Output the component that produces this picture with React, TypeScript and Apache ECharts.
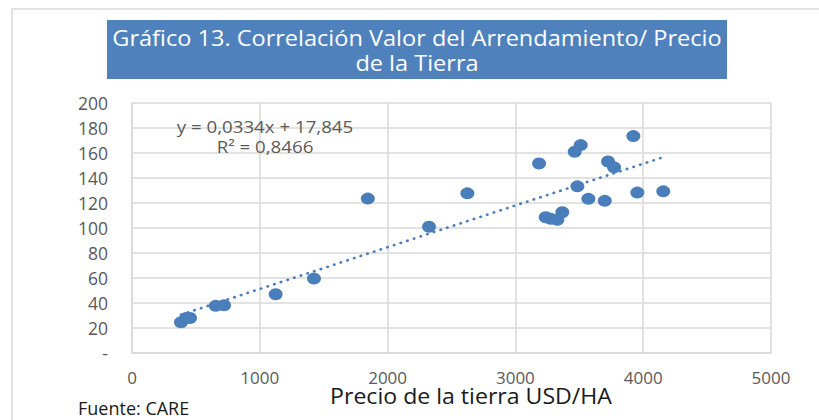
import React, { useEffect, useRef } from "react";
import * as echarts from "echarts";

const titleLines = ["Gráfico 13. Correlación Valor del Arrendamiento/ Precio", "de la Tierra"];
const xAxisName = "Precio de la tierra USD/HA";
const sourceText = "Fuente: CARE";
const equationText = "y = 0,0334x + 17,845";
const r2Text = "R² = 0,8466";

const landPrice = [383, 423, 454, 655, 720, 1124, 1424, 1845, 2324, 2624, 3185, 3237, 3276, 3328, 3367, 3464, 3485, 3511, 3571, 3699, 3725, 3772, 3923, 3954, 4157];
const rentValue = [24.5, 27.9, 28.0, 37.7, 38.2, 47.0, 59.5, 123.5, 101.0, 127.7, 151.6, 108.6, 107.3, 106.5, 112.6, 161.0, 133.3, 166.3, 123.3, 121.7, 153.2, 148.5, 173.5, 128.3, 129.3];

const trendSlope = 0.0334;
const trendIntercept = 17.845;

const xTicks = { min: 0, max: 5000, interval: 1000 };
const yTicks = { min: 0, max: 200, interval: 20 };

export default function App() {
  const ref = useRef<HTMLDivElement>(null);
  useEffect(() => {
    if (!ref.current) return;
    const chart = echarts.init(ref.current, null, { renderer: "svg" });
    const xMin = Math.min(...landPrice);
    const xMax = Math.max(...landPrice);
    const trend = [xMin, xMax].map((x) => [x, trendSlope * x + trendIntercept]);
    const font = "'Open Sans', sans-serif";
    const stretch = 1.1;
    chart.setOption({
      animation: false,
      backgroundColor: "#ffffff",
      grid: { left: 132, top: 103, width: 639, height: 250, containLabel: false },
      xAxis: {
        type: "value",
        min: xTicks.min,
        max: xTicks.max,
        interval: xTicks.interval,
        axisLine: { show: true, lineStyle: { color: "#d9d9d9", width: 1.5 } },
        axisTick: { show: false },
        splitLine: { show: true, lineStyle: { color: "#d9d9d9", width: 1.5 } },
        axisLabel: { color: "#595959", fontSize: 17, fontFamily: font, margin: 16, formatter: (v: number) => String(v) },
      },
      yAxis: {
        type: "value",
        min: yTicks.min,
        max: yTicks.max,
        interval: yTicks.interval,
        axisLine: { show: true, lineStyle: { color: "#d9d9d9", width: 1.5 } },
        axisTick: { show: false },
        splitLine: { show: true, lineStyle: { color: "#d9d9d9", width: 1.5 } },
        axisLabel: {
          color: "#595959",
          fontSize: 17.5,
          fontFamily: font,
          margin: 24,
          formatter: (v: number) => (v === 0 ? "-" : String(v)),
        },
      },
      series: [
        {
          type: "line",
          data: trend,
          symbol: "none",
          silent: true,
          lineStyle: { color: "#4a7ebb", width: 2.6, type: [0.5, 6.5], cap: "round" },
          z: 2,
        },
        {
          type: "scatter",
          data: landPrice.map((x, i) => [x, rentValue[i]]),
          symbol: "circle",
          symbolSize: [14, 12],
          itemStyle: { color: "#4a7ebb", opacity: 1 },
          z: 3,
        },
      ],
      graphic: [
        {
          type: "rect",
          shape: { x: 12, y: 9, width: 900, height: 500 },
          style: { fill: "none", stroke: "#d9d9d9", lineWidth: 1.5 },
          silent: true,
          z: 0,
        },
        {
          type: "rect",
          shape: { x: 107, y: 20, width: 620, height: 59 },
          style: { fill: "#4f81bd" },
          z: 10,
        },
        {
          type: "text",
          x: 417,
          y: 38,
          scaleX: 1.07,
          style: { text: titleLines[0], fill: "#ffffff", font: `22px ${font}`, textAlign: "center", textVerticalAlign: "middle" },
          z: 11,
        },
        {
          type: "text",
          x: 417,
          y: 63,
          scaleX: 1.07,
          style: { text: titleLines[1], fill: "#ffffff", font: `22px ${font}`, textAlign: "center", textVerticalAlign: "middle" },
          z: 11,
        },
        {
          type: "text",
          x: 265,
          y: 126,
          scaleX: stretch,
          style: { text: equationText, fill: "#595959", font: `17px ${font}`, textAlign: "center", textVerticalAlign: "middle" },
          z: 11,
        },
        {
          type: "text",
          x: 265,
          y: 146,
          scaleX: stretch,
          style: { text: r2Text, fill: "#595959", font: `17px ${font}`, textAlign: "center", textVerticalAlign: "middle" },
          z: 11,
        },
        {
          type: "text",
          x: 471,
          y: 395,
          scaleX: stretch,
          style: { text: xAxisName, fill: "#1a1a1a", font: `21px ${font}`, textAlign: "center", textVerticalAlign: "middle" },
          z: 11,
        },
        {
          type: "text",
          x: 78,
          y: 408,
          style: { text: sourceText, fill: "#1a1a1a", font: `18px ${font}`, textAlign: "left", textVerticalAlign: "middle" },
          z: 11,
        },
      ],
    });
    return () => chart.dispose();
  }, []);
  return <div ref={ref} style={{ position: "fixed", left: 0, top: 0, width: 819, height: 420 }} />;
}
